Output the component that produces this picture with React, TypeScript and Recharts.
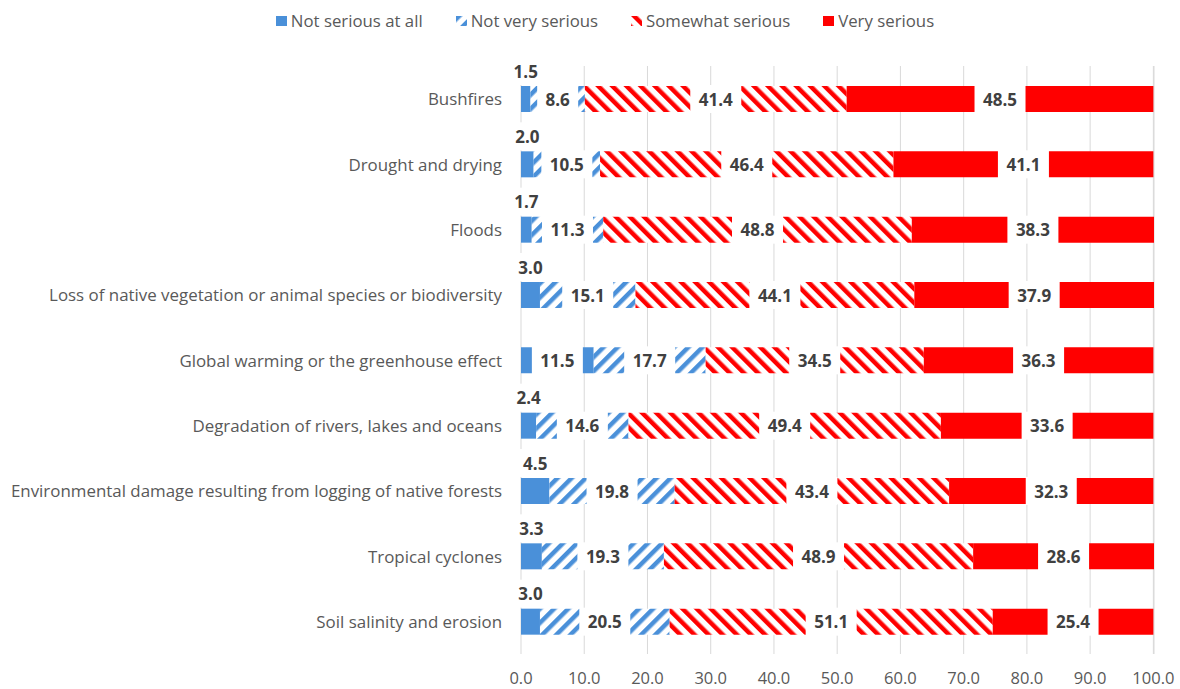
import { BarChart, Bar, XAxis, YAxis, CartesianGrid, LabelList } from 'recharts';

const categories = [
  'Bushfires',
  'Drought and drying',
  'Floods',
  'Loss of native vegetation or animal species or biodiversity',
  'Global warming or the greenhouse effect',
  'Degradation of rivers, lakes and oceans',
  'Environmental damage resulting from logging of native forests',
  'Tropical cyclones',
  'Soil salinity and erosion',
];
const notSeriousAtAll = [1.5, 2.0, 1.7, 3.0, 11.5, 2.4, 4.5, 3.3, 3.0];
const notVerySerious = [8.6, 10.5, 11.3, 15.1, 17.7, 14.6, 19.8, 19.3, 20.5];
const somewhatSerious = [41.4, 46.4, 48.8, 44.1, 34.5, 49.4, 43.4, 48.9, 51.1];
const verySerious = [48.5, 41.1, 38.3, 37.9, 36.3, 33.6, 32.3, 28.6, 25.4];
const xTicks = [0, 10, 20, 30, 40, 50, 60, 70, 80, 90, 100];

const data = categories.map((name, i) => ({
  name,
  notAtAll: notSeriousAtAll[i],
  notVery: notVerySerious[i],
  somewhat: somewhatSerious[i],
  very: verySerious[i],
}));

const FONT = '"Open Sans", "Liberation Sans", sans-serif';
const BLUE = '#4A90D9';
const RED = '#FF0000';

const series = [
  { key: 'notAtAll', label: 'Not serious at all', fill: BLUE },
  { key: 'notVery', label: 'Not very serious', fill: 'url(#blueHatch)' },
  { key: 'somewhat', label: 'Somewhat serious', fill: 'url(#redHatch)' },
  { key: 'very', label: 'Very serious', fill: RED },
];

// rough width of a bold number label
function textWidth(s: string) {
  let w = 0;
  for (const c of s) w += c === '.' ? 5 : 10;
  return w;
}

function BoxLabel(props: any) {
  const { x, y, width, height, value } = props;
  const txt = Number(value).toFixed(1);
  const small = Number(value) < 5;
  const cx = x + width / 2;
  const cy = small ? y - 15 : y + height / 2;
  const w = textWidth(txt) + 16;
  return (
    <g>
      <rect x={cx - w / 2} y={cy - 14} width={w} height={28} fill="#fff" />
      <text
        x={cx}
        y={cy}
        textAnchor="middle"
        dominantBaseline="central"
        fontFamily={FONT}
        fontWeight="bold"
        fontSize={17}
        fill="#404040"
      >
        {txt}
      </text>
    </g>
  );
}

function CategoryTick(props: any) {
  const { x, y, payload } = props;
  return (
    <text x={x - 19} y={y} textAnchor="end" dominantBaseline="central" fontFamily={FONT} fontSize={16.9} fill="#595959">
      {payload.value}
    </text>
  );
}

function ValueTick(props: any) {
  const { x, y, payload } = props;
  return (
    <text x={x} y={y + 23} textAnchor="middle" dominantBaseline="central" fontFamily={FONT} fontSize={16.5} fill="#595959">
      {Number(payload.value).toFixed(1)}
    </text>
  );
}

function Legend() {
  return (
    <div
      style={{
        position: 'absolute',
        top: 11,
        left: 0,
        width: 1210,
        display: 'flex',
        justifyContent: 'center',
        gap: 33,
        fontFamily: FONT,
        fontSize: 16.8,
        color: '#595959',
        lineHeight: '20px',
      }}
    >
      {series.map((s) => (
        <div key={s.key} style={{ display: 'flex', alignItems: 'center', gap: 4 }}>
          <svg width={11} height={10}>
            <rect width={11} height={10} fill={s.fill} />
          </svg>
          <span>{s.label}</span>
        </div>
      ))}
    </div>
  );
}

export default function App() {
  return (
    <div style={{ position: 'absolute', left: 0, top: 0, width: 1180, height: 689, background: '#fff' }}>
      <Legend />
      <BarChart
        width={1180}
        height={689}
        data={data}
        layout="vertical"
        margin={{ top: 66, right: 26, bottom: 5, left: 0 }}
        barSize={26}
      >
        <defs>
          <pattern id="blueHatch" width={10} height={10} patternUnits="userSpaceOnUse" patternTransform="rotate(45)">
            <rect width={10} height={10} fill="#fff" />
            <rect width={4.5} height={10} fill={BLUE} />
          </pattern>
          <pattern id="redHatch" width={10} height={10} patternUnits="userSpaceOnUse" patternTransform="rotate(-45)">
            <rect width={10} height={10} fill="#fff" />
            <rect width={4.5} height={10} fill={RED} />
          </pattern>
        </defs>
        <CartesianGrid horizontal={false} stroke="#d9d9d9" />
        <XAxis
          type="number"
          domain={[0, 100]}
          ticks={xTicks}
          axisLine={false}
          tickLine={false}
          tickSize={0}
          tickMargin={0}
          height={30}
          tick={<ValueTick />}
          interval={0}
        />
        <YAxis
          type="category"
          dataKey="name"
          width={521}
          axisLine={false}
          tickLine={false}
          tickSize={0}
          tickMargin={0}
          tick={<CategoryTick />}
          interval={0}
        />
        {series.map((s) => (
          <Bar key={s.key} dataKey={s.key} name={s.label} stackId="a" fill={s.fill} isAnimationActive={false}>
            <LabelList dataKey={s.key} content={<BoxLabel />} />
          </Bar>
        ))}
      </BarChart>
    </div>
  );
}
